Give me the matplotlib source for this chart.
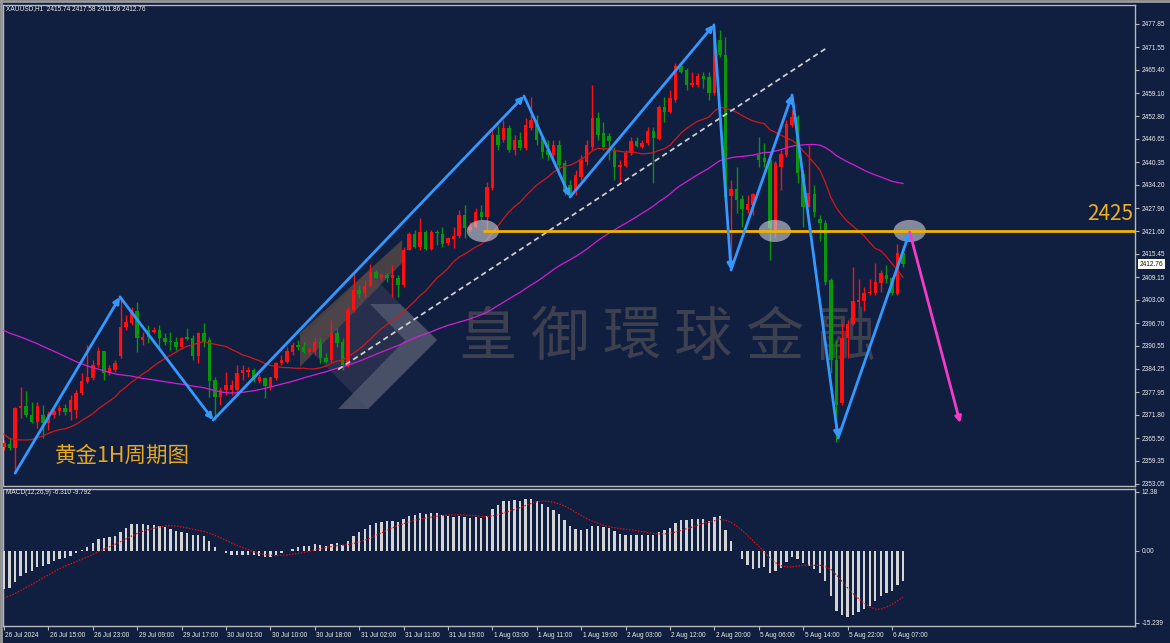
import numpy as np
import pandas as pd
import matplotlib
matplotlib.use("Agg")
import matplotlib.pyplot as plt
import matplotlib.transforms as mtransforms
from matplotlib.patches import Ellipse, Polygon

# ---------------- data ----------------
symbol_title = "XAUUSD,H1  2415.74 2417.58 2411.86 2412.76"
macd_title = "MACD(12,26,9) -6.310 -9.792"

opens = [
    2363.1, 2363.9, 2362.8, 2373.7, 2374.2, 2371.8, 2369.9, 2371.8, 2369.6, 2371.8,
    2372.9, 2373.7, 2372.6, 2373.1, 2377.7, 2380.7, 2381.8, 2385.3, 2389.1, 2383.2,
    2384.0, 2387.8, 2395.7, 2396.7, 2400.0, 2392.1, 2394.8, 2394.3, 2394.8, 2392.7,
    2391.8, 2391.6, 2390.2, 2392.9, 2392.7, 2387.8, 2394.0, 2392.1, 2381.3, 2376.7,
    2378.5, 2378.5, 2378.5, 2383.2, 2383.4, 2384.0, 2381.0, 2381.8, 2379.4, 2381.8,
    2385.9, 2386.1, 2388.9, 2390.8, 2390.2, 2388.9, 2388.9, 2391.6, 2387.2, 2386.7,
    2394.0, 2391.6, 2385.3, 2400.3, 2405.7, 2404.9, 2406.8, 2410.6, 2408.9, 2409.8,
    2408.9, 2408.9, 2407.0, 2416.5, 2420.9, 2417.4, 2421.4, 2416.8, 2421.4, 2420.9,
    2418.4, 2419.5, 2420.3, 2426.0, 2422.0, 2422.8, 2426.8, 2425.5, 2433.4, 2447.7,
    2446.4, 2449.6, 2443.7, 2446.4, 2444.2, 2449.6, 2451.8, 2446.9, 2443.7, 2442.3,
    2445.0, 2440.1, 2434.2, 2432.8, 2436.3, 2440.4, 2444.5, 2452.3, 2448.3, 2447.5,
    2443.7, 2439.0, 2439.3, 2442.9, 2446.1, 2444.5, 2445.6, 2448.8, 2446.6, 2455.3,
    2454.0, 2457.2, 2466.5, 2465.4, 2461.3, 2461.3, 2463.7, 2463.5, 2459.1, 2473.5,
    2469.4, 2431.2, 2433.1, 2430.4, 2427.4, 2428.7, 2442.3, 2441.5, 2440.9, 2422.0,
    2439.0, 2442.3, 2450.5, 2452.6, 2437.2, 2428.2, 2431.7, 2424.9, 2423.9, 2408.4,
    2386.7, 2375.0, 2392.7, 2396.5, 2402.4, 2402.7, 2404.9, 2404.9, 2407.6, 2409.8,
    2408.9, 2404.6, 2415.74,
]
highs = [
    2365.0, 2365.5, 2373.9, 2379.4, 2378.3, 2375.3, 2375.3, 2374.5, 2372.9, 2373.7,
    2374.5, 2374.8, 2377.2, 2378.5, 2383.2, 2390.8, 2386.7, 2390.2, 2389.1, 2385.3,
    2386.7, 2403.8, 2398.9, 2401.1, 2402.4, 2394.3, 2396.2, 2395.7, 2396.2, 2394.0,
    2394.3, 2392.9, 2392.9, 2395.4, 2393.5, 2394.3, 2396.7, 2392.9, 2382.1, 2379.4,
    2383.4, 2381.3, 2385.3, 2385.3, 2384.8, 2384.5, 2382.9, 2382.1, 2382.1, 2386.1,
    2388.0, 2390.2, 2391.6, 2392.1, 2391.6, 2390.2, 2392.7, 2392.7, 2388.6, 2397.5,
    2395.4, 2392.7, 2401.1, 2410.6, 2407.0, 2408.4, 2412.7, 2411.1, 2410.3, 2410.3,
    2412.5, 2409.8, 2417.4, 2421.4, 2422.0, 2425.2, 2422.0, 2422.0, 2422.0, 2422.8,
    2420.1, 2422.8, 2427.4, 2428.7, 2424.1, 2427.9, 2428.7, 2435.0, 2449.6, 2450.2,
    2451.8, 2450.4, 2447.7, 2448.5, 2452.3, 2458.0, 2453.2, 2447.7, 2446.4, 2446.4,
    2446.4, 2440.9, 2435.5, 2438.2, 2442.3, 2446.4, 2461.3, 2454.0, 2451.3, 2448.3,
    2444.5, 2440.9, 2443.7, 2447.2, 2447.2, 2446.4, 2449.9, 2449.9, 2455.9, 2458.0,
    2459.9, 2467.3, 2467.5, 2465.9, 2464.8, 2464.6, 2464.8, 2464.8, 2477.6, 2476.2,
    2474.3, 2435.5, 2439.0, 2431.5, 2431.5, 2432.0, 2447.2, 2445.6, 2441.5, 2440.7,
    2443.7, 2451.8, 2454.5, 2453.2, 2438.2, 2445.0, 2434.2, 2426.0, 2424.7, 2408.9,
    2392.1, 2396.7, 2397.5, 2411.9, 2408.7, 2406.5, 2408.7, 2413.0, 2411.1, 2412.5,
    2409.2, 2418.2, 2417.58,
]
lows = [
    2362.3, 2362.3, 2356.0, 2371.0, 2371.2, 2369.6, 2368.2, 2365.5, 2367.7, 2371.0,
    2371.8, 2371.8, 2370.4, 2371.0, 2377.2, 2380.4, 2381.3, 2384.8, 2381.3, 2382.6,
    2383.4, 2387.2, 2394.8, 2396.2, 2388.9, 2390.8, 2391.3, 2394.0, 2390.2, 2390.8,
    2389.4, 2389.4, 2389.9, 2392.1, 2386.7, 2385.9, 2390.2, 2376.7, 2370.4, 2374.5,
    2377.2, 2377.2, 2377.7, 2381.3, 2382.1, 2380.7, 2380.4, 2376.4, 2378.5, 2381.3,
    2385.3, 2385.9, 2388.0, 2389.4, 2388.6, 2388.3, 2388.0, 2385.9, 2385.9, 2385.9,
    2390.2, 2384.0, 2384.8, 2399.7, 2403.5, 2403.8, 2406.5, 2408.9, 2408.4, 2407.8,
    2403.8, 2403.8, 2406.5, 2416.5, 2417.1, 2416.5, 2416.5, 2416.5, 2417.9, 2417.4,
    2417.9, 2417.1, 2419.8, 2419.8, 2421.4, 2422.5, 2424.7, 2422.0, 2432.8, 2443.7,
    2445.8, 2443.1, 2442.3, 2443.7, 2443.7, 2449.1, 2445.0, 2441.5, 2441.0, 2441.0,
    2438.2, 2431.5, 2430.9, 2431.5, 2435.5, 2439.6, 2443.7, 2446.4, 2443.7, 2440.9,
    2435.5, 2434.7, 2439.0, 2442.3, 2444.5, 2444.2, 2445.0, 2434.7, 2446.4, 2451.3,
    2453.7, 2456.7, 2464.6, 2459.9, 2460.8, 2460.8, 2460.5, 2457.2, 2458.6, 2468.9,
    2430.1, 2411.1, 2426.6, 2422.8, 2426.6, 2426.0, 2439.0, 2439.0, 2413.8, 2419.8,
    2432.8, 2441.8, 2449.9, 2434.7, 2422.8, 2428.2, 2425.5, 2419.0, 2407.0, 2383.2,
    2364.4, 2374.5, 2387.2, 2396.2, 2401.1, 2400.0, 2404.3, 2404.3, 2405.1, 2407.6,
    2404.3, 2404.3, 2411.86,
]
closes = [
    2364.2, 2362.8, 2373.7, 2374.2, 2371.8, 2369.9, 2374.2, 2369.6, 2372.0, 2372.9,
    2373.7, 2372.6, 2375.8, 2377.7, 2381.0, 2382.1, 2385.3, 2389.1, 2383.2, 2384.5,
    2385.9, 2395.7, 2397.0, 2400.3, 2392.7, 2392.9, 2392.9, 2394.8, 2392.7, 2391.6,
    2391.6, 2390.2, 2392.7, 2392.4, 2387.8, 2394.0, 2391.6, 2381.0, 2376.7, 2378.5,
    2379.9, 2379.9, 2383.2, 2384.0, 2384.0, 2381.3, 2382.1, 2379.6, 2382.1, 2385.9,
    2386.7, 2389.1, 2390.8, 2390.2, 2388.9, 2389.7, 2391.6, 2387.2, 2386.1, 2394.0,
    2391.3, 2385.3, 2400.3, 2405.7, 2404.6, 2406.8, 2410.6, 2408.9, 2409.8, 2408.9,
    2409.8, 2407.0, 2416.5, 2420.9, 2417.4, 2421.4, 2416.8, 2421.4, 2421.1, 2418.2,
    2419.8, 2420.3, 2426.0, 2422.5, 2422.8, 2426.8, 2425.5, 2433.6, 2447.7, 2445.0,
    2449.6, 2443.7, 2446.4, 2444.2, 2450.5, 2451.8, 2446.4, 2443.1, 2442.3, 2445.0,
    2439.6, 2432.8, 2431.5, 2436.9, 2440.9, 2445.0, 2452.3, 2447.7, 2444.5, 2446.1,
    2439.0, 2439.6, 2442.9, 2446.1, 2444.8, 2445.6, 2448.8, 2446.9, 2455.3, 2454.0,
    2457.8, 2466.5, 2464.8, 2461.3, 2461.8, 2463.7, 2462.9, 2459.1, 2475.7, 2469.4,
    2430.9, 2433.1, 2430.1, 2427.7, 2429.0, 2431.7, 2440.9, 2440.4, 2422.5, 2440.1,
    2442.6, 2450.7, 2452.6, 2437.4, 2428.2, 2432.0, 2426.8, 2423.9, 2407.8, 2386.7,
    2374.5, 2392.7, 2396.5, 2402.7, 2403.0, 2404.9, 2405.1, 2407.8, 2410.3, 2408.7,
    2404.9, 2415.74, 2412.76,
]
# closes before the first visible bar (estimated from where the averages / MACD start)
warmup_closes = [
    2402, 2405, 2404, 2407, 2409, 2406, 2410, 2413, 2411, 2414,
    2416, 2415, 2418, 2420, 2417, 2415, 2412, 2414, 2411, 2409,
    2412, 2410, 2408, 2411, 2413, 2410, 2407, 2405, 2408, 2406,
    2404, 2407, 2405, 2403, 2406, 2408, 2405, 2404, 2402,
    2398, 2392, 2386, 2380, 2376, 2372, 2368, 2364, 2360, 2358, 2361,
    2365, 2368, 2366, 2363, 2361, 2364, 2366, 2363, 2362, 2364,
]

time_labels = ["26 Jul 2024", "26 Jul 15:00", "26 Jul 23:00", "29 Jul 09:00", "29 Jul 17:00",
               "30 Jul 01:00", "30 Jul 10:00", "30 Jul 18:00", "31 Jul 02:00", "31 Jul 11:00",
               "31 Jul 19:00", "1 Aug 03:00", "1 Aug 11:00", "1 Aug 19:00", "2 Aug 03:00",
               "2 Aug 12:00", "2 Aug 20:00", "5 Aug 06:00", "5 Aug 14:00", "5 Aug 22:00",
               "6 Aug 07:00"]
time_label_bars = [0, 8, 16, 24, 32, 40, 48, 56, 64, 72, 80, 88, 96, 104, 112, 120, 128,
                   136, 144, 152, 160]

price_tick_labels = ["2477.85", "2471.55", "2465.40", "2459.10", "2452.80", "2446.65",
                     "2440.35", "2434.20", "2427.90", "2421.60", "2415.45", "2409.15",
                     "2403.00", "2396.70", "2390.55", "2384.25", "2377.95", "2371.80",
                     "2365.50", "2359.35", "2353.05"]
macd_tick_labels = ["12.38", "0.00", "-15.239"]

# analyst drawings (bar index, price)
zigzag_bars = [2.0, 20.9, 37.7, 93.7, 102.0, 127.9, 131.0, 142.0, 150.3, 163.2]
zigzag_prices = [2356.0, 2403.8, 2370.4, 2458.3, 2430.9, 2477.6, 2411.1, 2458.6, 2365.5, 2421.4]
forecast_bars = [163.2, 172.3]
forecast_prices = [2421.4, 2369.6]
trend_bars = [60.2, 148.5]
trend_prices = [2384.1, 2471.6]
level_price = 2421.7
level_start_bar = 86.3
level_text = "2425"
circle_bars = [86.3, 138.9, 163.2]
chart_label = "黄金1H周期图"
watermark_chars = list("皇御環球金融")

# ---------------- derived indicators ----------------
all_close = pd.Series(warmup_closes + closes, dtype=float)
nw = len(warmup_closes)
ma_fast = all_close.rolling(20).mean().values[nw:]
ma_slow = all_close.rolling(60).mean().values[nw:]
ema12 = all_close.ewm(span=12, adjust=False).mean()
ema26 = all_close.ewm(span=26, adjust=False).mean()
macd_all = ema12 - ema26
signal_all = macd_all.rolling(9).mean()
macd_main = macd_all.values[nw:]
macd_signal = signal_all.values[nw:]

# ---------------- styling ----------------
W, H = 1170, 643
BG = "#101e40"
FG = "#ececec"
SPINE = "#b8b8b8"
UP = "#ff1010"
DOWN = "#0a960a"
SMALL = 4.7
plt.rcParams["font.family"] = ["Liberation Sans", "DejaVu Sans"]

fig = plt.figure(figsize=(W / 100, H / 100), dpi=100)
fig.patch.set_facecolor(BG)


def rect(x0, y0, x1, y1):
    return [x0 / W, 1 - y1 / H, (x1 - x0) / W, (y1 - y0) / H]


ax = fig.add_axes(rect(3, 5, 1135, 486))
axm = fig.add_axes(rect(3, 489, 1135, 626))
px = mtransforms.Affine2D().scale(1.0 / W, -1.0 / H).translate(0, 1) + fig.transFigure

n = len(closes)
x = np.arange(n)
xl = (-0.18, 203.8)

for a in (ax, axm):
    a.set_facecolor(BG)
    a.set_xlim(*xl)
    for s in a.spines.values():
        s.set_color(SPINE)
        s.set_linewidth(1.0)
    a.tick_params(axis="y", which="both", left=False, right=True, labelleft=False,
                  labelright=True, colors=SPINE, labelsize=SMALL, length=3, width=0.8,
                  pad=2, labelcolor=FG)

ax.set_ylim(2352.5, 2483.0)
ax.set_xticks([])
pt = [float(v) for v in price_tick_labels]
ax.set_yticks(pt)
ax.set_yticklabels(price_tick_labels, color=FG, fontsize=SMALL)

# watermark + logo (under everything)
logo_polys = [
    ([(300, 340), (368, 272), (437, 340), (368, 409)], "#2c3350", 0.85),
    ([(300, 333), (402, 240), (402, 263), (300, 367)], "#5a4c48", 0.75),
    ([(370, 304), (400, 304), (437, 340), (368, 409), (338, 409), (405, 340)],
     "#4f566c", 0.85),
]
for pts, col, al in logo_polys:
    ax.add_patch(Polygon(pts, closed=True, transform=px, facecolor=col, edgecolor="none",
                         zorder=0.5, alpha=al))
for i, ch in enumerate(watermark_chars):
    ax.text(488 + i * 71.6, 338, ch, transform=px, fontsize=42, color="#3d404f",
            family=["Noto Sans CJK TC", "Noto Sans CJK SC"], ha="center", va="center",
            zorder=0.6)

# candles
o = np.array(opens); h = np.array(highs); l = np.array(lows); c = np.array(closes)
up = c >= o
cols = np.where(up, UP, DOWN)
ax.vlines(x, l, h, colors=cols, linewidth=1.0, zorder=2)
body_lo = np.minimum(o, c)
body_h = np.maximum(np.abs(c - o), 0.3)
ax.bar(x, body_h, bottom=body_lo, width=0.62, color=cols, edgecolor="none", zorder=3)

# moving averages
ax.plot(x, ma_fast, color="#d41818", lw=0.9, zorder=4)
ax.plot(x, ma_slow, color="#d21ed2", lw=0.9, zorder=4)

# trend line (dashed)
ax.plot(trend_bars, trend_prices, color="#cfcfcf", lw=1.3, ls=(0, (3, 2)), zorder=5)

# circles
for cb in circle_bars:
    ax.add_patch(Ellipse((cb, level_price), width=5.8, height=6.0, facecolor="#c9ccd6",
                         edgecolor="none", alpha=0.62, zorder=6))

# horizontal level
ax.plot([level_start_bar, xl[1]], [level_price, level_price], color="#f2b400", lw=2.0,
        zorder=6.5, solid_capstyle="butt")
ax.text(1133, 214, level_text, transform=px, ha="right", va="center", fontsize=15,
        color="#f0b020", family=["Noto Sans CJK SC", "DejaVu Sans"], zorder=7)

# zigzag arrows
for i in range(len(zigzag_bars) - 1):
    ax.annotate("", xy=(zigzag_bars[i + 1], zigzag_prices[i + 1]),
                xytext=(zigzag_bars[i], zigzag_prices[i]),
                arrowprops=dict(arrowstyle="-|>", color="#3399ff", lw=2.0,
                                mutation_scale=9, shrinkA=0, shrinkB=0),
                zorder=8)
ax.annotate("", xy=(forecast_bars[1], forecast_prices[1]),
            xytext=(forecast_bars[0], forecast_prices[0]),
            arrowprops=dict(arrowstyle="-|>", color="#f23cc8", lw=2.0,
                            mutation_scale=9, shrinkA=0, shrinkB=0),
            zorder=8)

# chart label
ax.text(55, 456, chart_label, transform=px, ha="left", va="center", fontsize=15.5,
        color="#e8a81c", family=["Noto Sans CJK SC", "DejaVu Sans"], zorder=9)

# current price box
ax.text(1140, 264, f"{closes[-1]:.2f}", transform=px, ha="left", va="center",
        fontsize=SMALL, color="#101010",
        bbox=dict(boxstyle="square,pad=0.25", fc="white", ec="none"), zorder=10,
        clip_on=False)

# title texts
fig.text(6 / W, 1 - 9 / H, symbol_title, color=FG, fontsize=SMALL, ha="left", va="center")
fig.text(6 / W, 1 - 493 / H, macd_title, color=FG, fontsize=SMALL, ha="left", va="center")

# MACD pane
axm.set_ylim(-15.239 - 0.65, 12.38 + 0.6)
mt = [float(v) for v in macd_tick_labels]
axm.set_yticks(mt)
axm.set_yticklabels(macd_tick_labels, color=FG, fontsize=SMALL)
axm.bar(x, macd_main, width=0.42, color="#d4d4d4", edgecolor="none", zorder=3)
axm.plot(x, macd_signal, color="#e01010", lw=0.9, ls=(0, (1.2, 1.2)), zorder=4)

axm.set_xticks(time_label_bars)
axm.tick_params(axis="x", which="both", bottom=True, top=False, labelbottom=False,
                colors=SPINE, length=3, width=0.8, direction="out")
off = mtransforms.ScaledTranslation(1.5 / 100, 0, fig.dpi_scale_trans)
for b, t in zip(time_label_bars, time_labels):
    axm.text(b, -0.045, t, transform=mtransforms.blended_transform_factory(axm.transData,
             axm.transAxes) + off, ha="left", va="top", fontsize=SMALL, color=FG,
             clip_on=False)

# window edges
fig.add_artist(plt.Line2D([1 / W, 1 / W], [0, 1], color="#9a9a9a", lw=2.0))
fig.add_artist(plt.Line2D([0, 1], [1 - 1 / H, 1 - 1 / H], color="#9a9a9a", lw=2.0))

fig.savefig("out.png", dpi=100, facecolor=BG)
